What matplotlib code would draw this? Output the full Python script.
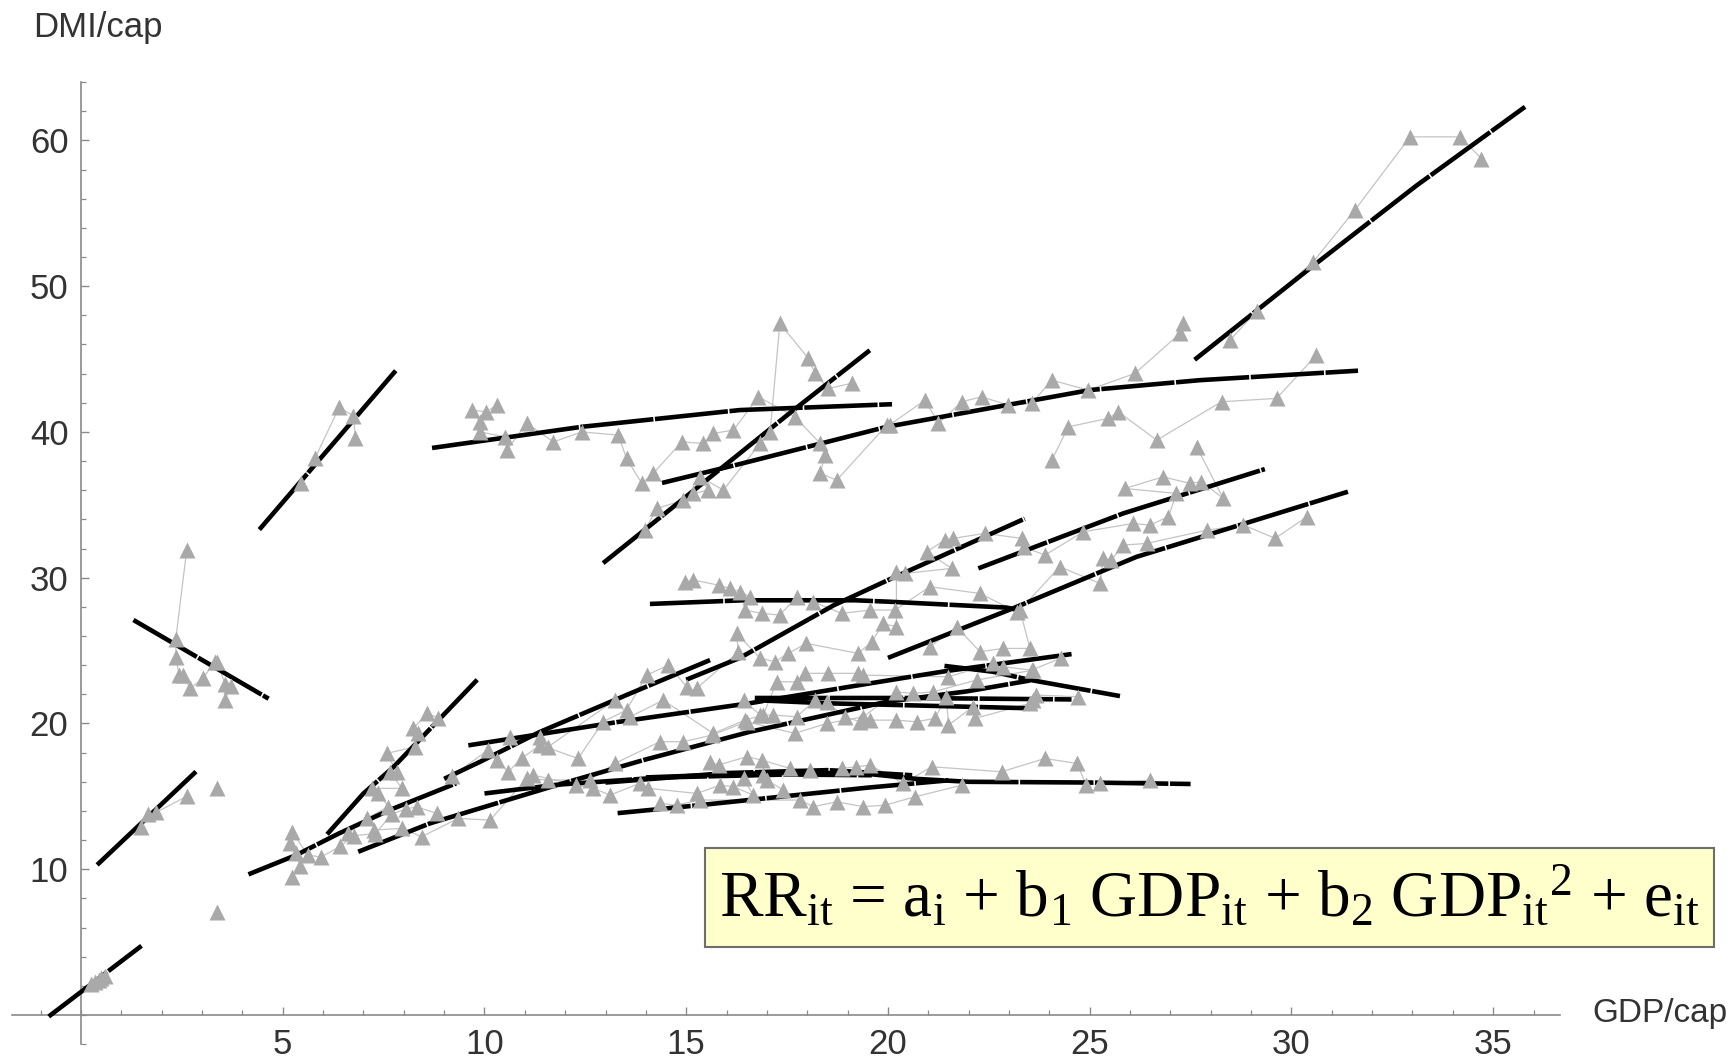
import matplotlib
matplotlib.use('Agg')
import matplotlib.pyplot as plt
from matplotlib.ticker import MultipleLocator
from matplotlib.patches import Rectangle

# fitted quadratic curves per country (GDP/cap, DMI/cap)
fit_01 = [(-0.8, -0.1), (1.5, 4.75)]
fit_02 = [(0.4, 10.3), (2.85, 16.7)]
fit_03 = [(1.3, 27.1), (4.65, 21.7)]
fit_04 = [(4.42, 33.3), (7.8, 44.2)]
fit_05 = [(4.15, 9.65), (5.33, 10.97), (6.38, 12.44), (7.62, 14.03), (9.3, 15.9)]
fit_06 = [(6.1, 12.4), (7.0, 15.2), (7.74, 17.0), (9.82, 23.0)]
fit_07 = [(6.87, 11.2), (8.65, 13.15), (11.79, 15.77), (13.94, 17.49), (16.58, 19.43),
          (19.97, 21.49), (21.95, 22.2), (23.52, 22.95)]
fit_08 = [(8.7, 38.9), (12.41, 40.35), (16.33, 41.5), (20.1, 41.9)]
fit_09 = [(9.0, 16.2), (9.89, 17.37), (11.38, 19.43), (13.61, 22.06), (15.59, 24.35)]
fit_10 = [(9.6, 18.5), (13.3, 20.1), (16.6, 21.4), (19.55, 22.75), (21.45, 23.6), (24.55, 24.76)]
fit_11 = [(10.0, 15.2), (11.8, 15.8), (14.4, 16.3), (17.5, 16.5), (19.6, 16.45)]
fit_12 = [(12.94, 31.0), (14.68, 34.86), (17.57, 41.3), (19.55, 45.6)]
fit_13 = [(13.0, 15.95), (16.0, 16.6), (18.5, 16.8), (20.6, 16.45)]
fit_14 = [(13.3, 13.85), (15.34, 14.4), (19.5, 15.6), (21.5, 16.1)]
fit_15 = [(14.0, 16.3), (17.0, 16.6), (19.3, 16.6), (20.7, 16.2), (22.0, 16.0), (25.0, 15.95), (27.5, 15.85)]
fit_16 = [(14.1, 28.2), (16.4, 28.45), (19.2, 28.45), (20.05, 28.35), (22.94, 27.95), (23.2, 27.8)]
fit_17 = [(14.4, 36.5), (16.33, 37.8), (19.97, 40.35), (25.0, 42.87), (27.73, 43.55), (31.65, 44.2)]
fit_18 = [(15.0, 23.0), (16.33, 24.5), (18.65, 28.1), (20.05, 29.9), (23.39, 34.05)]
fit_19 = [(16.7, 21.75), (20.5, 21.75), (24.55, 21.65)]
fit_20 = [(16.7, 21.6), (18.56, 21.38), (23.44, 21.05)]
fit_21 = [(20.0, 24.5), (23.1, 27.9), (26.16, 31.43), (31.4, 35.9)]
fit_22 = [(21.4, 23.95), (22.6, 23.55), (23.5, 23.0), (25.75, 21.88)]
fit_23 = [(22.24, 30.64), (25.83, 34.41), (29.34, 37.45)]
fit_24 = [(27.6, 44.95), (30.54, 51.4), (33.1, 56.9), (35.79, 62.3)]

# observed country trajectories
obs_01 = [(0.25, 2.1), (0.35, 2.3), (0.45, 2.4), (0.5, 2.55), (0.6, 2.7)]
obs_02 = [(1.48, 12.9), (1.67, 13.8), (1.86, 13.9), (2.62, 15.0)]
obs_03 = [(2.62, 31.9), (2.35, 25.8), (2.35, 24.55), (2.43, 23.3), (2.52, 23.3), (2.71, 22.4),
          (3.02, 23.1), (3.31, 24.2), (3.38, 24.2), (3.57, 22.7), (3.71, 22.6), (3.57, 21.6)]
obs_04 = [(5.45, 36.5), (5.8, 38.2), (6.4, 41.7), (6.75, 41.1), (6.8, 39.6)]
obs_05 = [(5.24, 9.5), (5.43, 10.23), (5.33, 11.09), (5.19, 11.82), (5.24, 12.56), (5.62, 10.97),
          (5.95, 10.84), (6.43, 11.58), (6.76, 12.31), (7.29, 12.44), (7.71, 13.78), (8.05, 14.15),
          (8.33, 14.27), (8.82, 13.83)]
obs_06 = [(6.62, 12.46), (7.08, 13.49), (7.62, 14.29), (7.37, 15.2), (7.2, 15.55), (7.95, 15.55),
          (7.66, 16.69), (7.82, 16.69), (7.58, 17.95), (8.28, 18.4), (8.36, 19.32), (8.24, 19.66),
          (8.57, 20.69), (8.86, 20.39)]
obs_07 = [(7.25, 12.69), (7.95, 12.8), (8.44, 12.23), (9.35, 13.49), (10.14, 13.37), (11.05, 16.23),
          (11.58, 16.12), (12.61, 16.12), (13.23, 17.26), (14.35, 18.75), (14.93, 18.75), (15.63, 19.2),
          (16.5, 20.12), (17.69, 19.32), (18.48, 20.0), (19.39, 20.46), (20.21, 22.17), (20.63, 22.06),
          (21.12, 22.17), (22.2, 22.98), (23.6, 23.66)]
obs_08 = [(10.3, 41.84), (10.05, 41.38), (9.68, 41.5), (9.89, 40.69), (9.89, 40.0), (10.51, 39.66),
          (10.55, 38.75), (11.05, 40.58), (11.71, 39.32), (12.41, 40.0), (13.32, 39.78), (13.52, 38.18),
          (13.9, 36.47), (14.18, 37.15), (14.89, 39.32), (15.42, 39.21), (15.67, 39.9), (16.17, 40.12),
          (16.79, 42.41), (17.69, 41.04), (18.32, 39.21), (18.44, 38.41), (18.32, 37.15), (18.73, 36.69),
          (19.97, 40.47)]
obs_09 = [(9.2, 16.4), (10.09, 18.18), (10.3, 17.49), (10.59, 16.69), (10.92, 17.6), (11.38, 18.52),
          (12.32, 17.6), (12.94, 20.12), (13.52, 20.92), (14.02, 23.32), (14.56, 24.0), (15.01, 22.52)]
obs_10 = [(10.63, 19.09), (11.38, 19.09), (11.58, 18.4), (13.23, 21.6), (13.61, 20.46), (14.43, 21.6),
          (15.67, 19.32), (16.46, 20.23), (16.91, 20.58), (17.24, 22.86), (17.74, 22.86), (17.94, 23.44),
          (18.52, 23.44), (19.26, 23.44), (19.39, 23.32), (21.49, 23.2), (22.61, 24.12), (22.86, 23.89),
          (23.56, 23.66), (24.3, 24.5)]
obs_11 = [(11.21, 16.46), (12.28, 15.77), (12.7, 15.55), (13.11, 15.09), (13.85, 15.89), (14.06, 15.55),
          (15.26, 15.2), (15.84, 15.77), (16.17, 15.66), (16.66, 15.09), (16.42, 16.23), (16.91, 16.46),
          (16.99, 16.12), (17.41, 15.43)]
obs_12 = [(13.98, 33.26), (14.27, 34.75), (14.93, 35.32), (15.18, 35.78), (15.55, 36.01), (15.34, 36.92),
          (15.92, 36.01), (16.83, 39.21), (17.08, 40.0), (17.32, 47.44), (18.03, 45.04), (18.19, 44.01),
          (18.52, 42.98), (19.1, 43.33)]
obs_14 = [(14.35, 14.52), (14.76, 14.4), (15.34, 14.75), (17.82, 14.75), (18.15, 14.29), (18.73, 14.63),
          (19.39, 14.29), (19.93, 14.4), (20.67, 14.97), (21.83, 15.77)]
obs_15 = [(15.59, 17.37), (15.8, 17.15), (16.5, 17.72), (16.87, 17.49), (17.57, 16.92), (18.07, 16.8),
          (18.85, 16.92), (19.22, 17.03), (19.55, 17.15), (20.38, 15.89), (21.08, 17.03), (22.82, 16.69),
          (23.89, 17.6), (24.68, 17.26), (24.92, 15.77), (25.25, 15.89), (26.49, 16.12)]
obs_16 = [(14.97, 29.7), (15.18, 29.84), (15.8, 29.49), (16.08, 29.26), (16.33, 29.03), (16.58, 28.69),
          (16.46, 27.78), (16.87, 27.55), (17.32, 27.44), (17.74, 28.69), (18.15, 28.35), (18.85, 27.55),
          (19.55, 27.78), (20.17, 27.78), (21.04, 29.38), (22.28, 28.92), (23.19, 27.66)]
obs_17 = [(20.05, 40.5), (20.92, 42.18), (21.25, 40.58), (21.83, 42.07), (22.32, 42.41), (22.98, 41.84),
          (23.56, 41.95), (24.06, 43.55), (24.96, 42.87), (26.12, 44.01), (27.24, 46.76), (27.32, 47.44)]
obs_17b = [(24.06, 38.07), (24.47, 40.35), (25.46, 40.93), (25.71, 41.38), (26.66, 39.44), (28.27, 42.07),
           (29.63, 42.3), (30.62, 45.27)]
obs_18 = [(15.26, 22.41), (16.29, 24.9), (16.25, 26.18), (16.83, 24.49), (17.2, 24.23), (17.53, 24.81),
          (17.98, 25.49), (19.26, 24.81), (19.6, 25.6), (19.88, 26.86), (20.21, 26.63), (20.21, 30.41),
          (20.42, 30.29), (21.58, 30.64), (20.96, 31.78), (21.41, 32.58), (21.62, 32.7), (22.4, 33.04),
          (23.31, 32.7)]
obs_19 = [(16.42, 21.6), (16.83, 20.58), (17.16, 20.58), (17.74, 20.46), (18.19, 21.6), (18.48, 21.49),
          (18.93, 20.46), (19.31, 20.12), (19.55, 20.23), (20.21, 20.23), (20.71, 20.12), (21.16, 20.35),
          (21.45, 21.83), (21.5, 19.89), (22.11, 21.15), (22.16, 20.35), (23.52, 21.38), (23.6, 21.6),
          (23.68, 21.95), (24.72, 21.83)]
obs_21 = [(21.04, 25.26), (21.7, 26.63), (22.28, 24.92), (22.86, 25.15), (23.52, 25.15), (23.27, 27.78),
          (24.26, 30.75), (25.25, 29.61), (25.34, 31.32), (25.54, 31.21), (25.83, 32.24), (26.41, 32.35),
          (27.9, 33.26), (28.81, 33.61), (29.6, 32.7), (30.38, 34.18)]
obs_23 = [(23.36, 32.12), (23.89, 31.55), (24.84, 33.15), (26.08, 33.72), (26.49, 33.61), (26.95, 34.18),
          (27.15, 35.78), (25.87, 36.12), (26.82, 36.92), (27.48, 36.47), (27.77, 36.58), (28.31, 35.44),
          (27.65, 38.98)]
obs_24 = [(28.48, 46.3), (29.14, 48.3), (30.54, 51.67), (31.57, 55.21), (32.94, 60.24), (34.18, 60.24),
          (34.71, 58.75)]
obs_single = [(3.38, 15.6), (3.38, 7.05)]

x_ticks = [5, 10, 15, 20, 25, 30, 35]
y_ticks = [10, 20, 30, 40, 50, 60]
formula = (r'RR$_{\mathrm{it}}$ = a$_{\mathrm{i}}$ + b$_{1}$ GDP$_{\mathrm{it}}$'
           r' + b$_{2}$ GDP$_{\mathrm{it}}{}^{2}$ + e$_{\mathrm{it}}$')

fits = [fit_01, fit_02, fit_03, fit_04, fit_05, fit_06, fit_07, fit_08, fit_09, fit_10, fit_11, fit_12,
        fit_13, fit_14, fit_15, fit_16, fit_17, fit_18, fit_19, fit_20, fit_21, fit_22, fit_23, fit_24]
tracks = [obs_01, obs_02, obs_03, obs_04, obs_05, obs_06, obs_07, obs_08, obs_09, obs_10, obs_11, obs_12,
          obs_14, obs_15, obs_16, obs_17, obs_17b, obs_18, obs_19, obs_21, obs_23, obs_24]

plt.rcParams['font.family'] = ['Liberation Sans', 'DejaVu Sans']
plt.rcParams['mathtext.fontset'] = 'custom'
plt.rcParams['mathtext.rm'] = 'Liberation Serif'
plt.rcParams['mathtext.it'] = 'Liberation Serif:italic'

fig = plt.figure(figsize=(17.32, 10.6), dpi=100)
ax = fig.add_axes([0.00716, 0.0149, 0.8934, 0.9077])

# gray trajectories
for tr in tracks:
    xs = [p[0] for p in tr]
    ys = [p[1] for p in tr]
    ax.plot(xs, ys, color='#c4c4c4', lw=0.9, zorder=2)
    ax.plot(xs, ys, ls='none', marker='^', ms=11, color='#a9a9a9', mec='none', zorder=4)
ax.plot([p[0] for p in obs_single], [p[1] for p in obs_single], ls='none', marker='^', ms=11,
        color='#a9a9a9', mec='none', zorder=4)

# black fitted curves
for f in fits:
    ax.plot([p[0] for p in f], [p[1] for p in f], color='black', lw=3.3,
            ls=(0, (16, 0.35)), solid_capstyle='butt', zorder=3)

ax.set_xlim(-1.7, 36.65)
ax.set_ylim(-2.0, 64.0)
for s in ['top', 'right']:
    ax.spines[s].set_visible(False)
ax.spines['left'].set_position(('data', 0))
ax.spines['bottom'].set_position(('data', 0))
for s in ['left', 'bottom']:
    ax.spines[s].set_color('#8a8a8a')
    ax.spines[s].set_linewidth(1.2)
ax.patch.set_visible(False)

ax.set_xticks(x_ticks)
ax.set_yticks(y_ticks)
ax.xaxis.set_minor_locator(MultipleLocator(1))
ax.yaxis.set_minor_locator(MultipleLocator(2))
ax.tick_params(which='major', direction='in', length=6, width=1, color='#8a8a8a',
               labelsize=25, labelcolor='#333333')
ax.tick_params(which='minor', direction='in', length=3.5, width=0.9, color='#8a8a8a')
ax.tick_params(axis='x', which='major', pad=9)
ax.tick_params(axis='y', which='major', pad=9)

fig.text(0.019, 0.99, 'DMI/cap', fontsize=25, color='#333333', ha='left', va='top')
fig.text(0.9196, 0.0437, 'GDP/cap', fontsize=24, color='#333333', ha='left', va='center')

# formula box
fig.patches.append(Rectangle((0.407, 0.1066), 0.5826, 0.0934, transform=fig.transFigure,
                             facecolor='#ffffcc', edgecolor='#6e6e6e', lw=1.5, zorder=5))
fig.text(0.698, 0.153, formula, fontsize=47, family=['Liberation Serif'], color='black',
         ha='center', va='center', zorder=6)

fig.savefig('out.png', dpi=100)
